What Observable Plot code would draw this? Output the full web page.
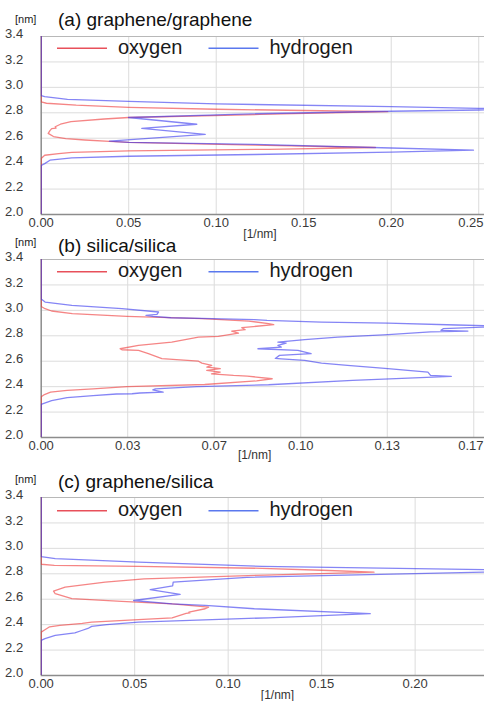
<!DOCTYPE html>
<html>
<head>
<meta charset="utf-8">
<script src="https://cdn.jsdelivr.net/npm/d3@7"></script>
<script src="https://cdn.jsdelivr.net/npm/@observablehq/plot@0.6"></script>
<style>
  html, body { margin: 0; padding: 0; background: white; }
  #root { position: relative; width: 484px; height: 701px; overflow: hidden; font-family: "Liberation Sans", Arial, sans-serif; }
  #root > svg.panel { position: absolute; left: 0; }
  #overlay { position: absolute; left: 0; top: 0; pointer-events: none; }
</style>
</head>
<body>
<div id="root"></div>
<script>
// ---------- data (position [nm], density [1/nm]) ----------
const yTicks = [2.0, 2.2, 2.4, 2.6, 2.8, 3.0, 3.2, 3.4];
const xTicksA = [0, 0.05, 0.10, 0.15, 0.20, 0.25];
const xTicksB = [0, 1/30, 2/30, 3/30, 4/30, 5/30];
const xTicksC = [0, 0.05, 0.10, 0.15, 0.20];
const seriesNames = ["oxygen", "hydrogen"];
const panelTitles = ["(a) graphene/graphene", "(b) silica/silica", "(c) graphene/silica"];

// panel (a) graphene/graphene : [position, density]
const oxygenA = [[2.00,0],[2.44,0],[2.466,0.002],[2.478,0.01],[2.488,0.0175],[2.50,0.05],[2.513,0.13],[2.527,0.191],
  [2.545,0.122],[2.567,0.05],[2.575,0.039],[2.586,0.025],[2.597,0.014],[2.613,0.007],[2.638,0.004],[2.660,0.005],
  [2.675,0.006],[2.680,0.0085],[2.690,0.008],[2.710,0.011],[2.730,0.017],[2.751,0.036],[2.763,0.050],[2.787,0.125],
  [2.809,0.198],[2.818,0.15],[2.828,0.10],[2.843,0.05],[2.860,0.02],[2.875,0.003],[2.885,0],[3.40,0]];
const hydrogenA = [[2.00,0],[2.385,0],[2.40,0.002],[2.427,0.005],[2.445,0.0175],[2.458,0.05],[2.472,0.122],[2.49,0.20],
  [2.506,0.247],[2.523,0.20],[2.551,0.122],[2.568,0.05],[2.577,0.039],[2.63,0.0937],[2.677,0.0575],[2.710,0.0889],
  [2.763,0.0499],[2.792,0.12],[2.812,0.20],[2.822,0.25],[2.828,0.273],[2.835,0.25],[2.848,0.20],[2.870,0.10],
  [2.889,0.05],[2.906,0.015],[2.927,0.002],[2.935,0],[3.40,0]];

// panel (b) silica/silica
const oxygenB = [[2.00,0],[2.32,0],[2.335,0.001],[2.357,0.0036],[2.37,0.01],[2.383,0.02],[2.40,0.033],[2.417,0.063],
  [2.445,0.083],[2.462,0.089],[2.483,0.0794],[2.488,0.0741],[2.501,0.0656],[2.515,0.069],[2.528,0.0638],[2.541,0.069],
  [2.554,0.0638],[2.567,0.0657],[2.585,0.0619],[2.60,0.0606],[2.62,0.0465],[2.659,0.0413],[2.685,0.0375],[2.69,0.0311],
  [2.698,0.0304],[2.724,0.0375],[2.75,0.0503],[2.79,0.0606],[2.795,0.0683],[2.821,0.076],[2.837,0.0734],[2.848,0.0786],
  [2.864,0.0773],[2.875,0.083],[2.887,0.0896],[2.895,0.0876],[2.916,0.080],[2.935,0.062],[2.953,0.033],[2.975,0.012],
  [2.995,0.004],[3.013,0.0015],[3.03,0],[3.40,0]];
const hydrogenB = [[2.00,0],[2.26,0],[2.265,0.0005],[2.29,0.004],[2.313,0.01],[2.33,0.02],[2.342,0.029],[2.344,0.035],
  [2.35,0.038],[2.357,0.047],[2.375,0.043],[2.383,0.044],[2.40,0.06],[2.415,0.0876],[2.45,0.12],[2.48,0.158],
  [2.488,0.150],[2.514,0.149],[2.541,0.1336],[2.567,0.118],[2.585,0.108],[2.606,0.1015],[2.619,0.0925],[2.622,0.0902],
  [2.646,0.0918],[2.659,0.104],[2.685,0.0989],[2.698,0.0835],[2.711,0.0925],[2.724,0.0912],[2.743,0.0944],[2.75,0.0912],
  [2.769,0.1015],[2.79,0.1143],[2.809,0.1336],[2.83,0.15],[2.837,0.1644],[2.843,0.154],[2.856,0.155],[2.868,0.17],
  [2.875,0.18],[2.885,0.16],[2.90,0.1336],[2.908,0.108],[2.921,0.087],[2.927,0.0822],[2.935,0.0657],[2.942,0.05],
  [2.953,0.043],[2.961,0.0404],[2.969,0.0446],[2.987,0.0452],[3.013,0.0311],[3.039,0.0118],[3.065,0.0015],[3.09,0],[3.40,0]];

// panel (c) graphene/silica
const oxygenC = [[2.00,0],[2.341,0],[2.36,0.002],[2.383,0.0045],[2.395,0.01],[2.41,0.022],[2.42,0.027],[2.439,0.052],
  [2.454,0.07],[2.488,0.0775],[2.492,0.0795],[2.498,0.079],[2.525,0.0877],[2.538,0.0895],[2.564,0.07],[2.583,0.043],
  [2.604,0.0164],[2.643,0.0075],[2.664,0.0066],[2.695,0.0128],[2.734,0.0342],[2.76,0.055],[2.79,0.12],[2.813,0.178],
  [2.828,0.15],[2.843,0.118],[2.858,0.052],[2.866,0.007],[2.875,0],[3.40,0]];
const hydrogenC = [[2.00,0],[2.276,0],[2.29,0.002],[2.315,0.0075],[2.335,0.018],[2.354,0.0217],[2.37,0.025],[2.386,0.027],
  [2.40,0.035],[2.42,0.052],[2.454,0.1216],[2.486,0.176],[2.525,0.114],[2.551,0.0877],[2.564,0.07],[2.59,0.0494],
  [2.638,0.0743],[2.675,0.0583],[2.705,0.0703],[2.734,0.0706],[2.772,0.11],[2.813,0.237],[2.823,0.256],[2.832,0.237],
  [2.858,0.118],[2.892,0.052],[2.919,0.0075],[2.935,0],[3.40,0]];

// ---------- layout ----------
const W = 484, ML = 40.7, MT = 12, MB = 30, FH = 178;
const RED = "#ee3333", BLUE = "#3333ee";
const panels = [
  {frameTop: 36,    xmax: 0.2533, xTicks: xTicksA, oxygen: oxygenA, hydrogen: hydrogenA, lastEdge: true,
   nmBase: 22.5, titleBase: 25.5, legendY: 48.3, unitX: 260, unitBase: 238},
  {frameTop: 258.5, xmax: 0.1708, xTicks: xTicksB, oxygen: oxygenB, hydrogen: hydrogenB, lastEdge: true,
   nmBase: 246, titleBase: 252, legendY: 271.7, unitX: 254.7, unitBase: 459},
  {frameTop: 497,   xmax: 0.2371, xTicks: xTicksC, oxygen: oxygenC, hydrogen: hydrogenC, lastEdge: false,
   nmBase: 482.5, titleBase: 488.3, legendY: 510.7, unitX: 277.5, unitBase: 698.5}
];

const root = document.getElementById("root");
const font = "Liberation Sans, Arial, sans-serif";

panels.forEach((p, i) => {
  const inner = p.lastEdge ? p.xTicks.slice(0, -1) : p.xTicks;
  const edge = p.lastEdge ? p.xTicks.slice(-1) : [];
  const chart = Plot.plot({
    width: W, height: MT + FH + MB,
    marginTop: MT, marginBottom: MB, marginLeft: ML, marginRight: 0,
    x: {domain: [0, p.xmax], axis: null},
    y: {domain: [2.0, 3.4], axis: null},
    style: {background: "transparent", fontFamily: font},
    marks: [
      Plot.ruleX(p.xTicks.slice(1), {stroke: "#dcdcdc", strokeWidth: 1}),
      Plot.ruleY(yTicks.slice(1, -1), {stroke: "#dcdcdc", strokeWidth: 1}),
      Plot.ruleY([3.4], {stroke: "#b8b8b8", strokeWidth: 1.2}),
      Plot.ruleX([0], {stroke: "#8c8c8c", strokeWidth: 1.5}),
      Plot.ruleY([2.0], {stroke: "#8c8c8c", strokeWidth: 1.5}),
      Plot.line(p.oxygen, {x: d => d[1], y: d => d[0], stroke: RED, strokeOpacity: 0.6, strokeWidth: 1.3, clip: true}),
      Plot.line(p.hydrogen, {x: d => d[1], y: d => d[0], stroke: BLUE, strokeOpacity: 0.6, strokeWidth: 1.3, clip: true}),
      Plot.text(yTicks, {y: d => d, frameAnchor: "left", dx: -18, dy: -2.5, textAnchor: "end",
        text: d => d.toFixed(1), fontSize: 13, fill: "#3a3a3a"}),
      Plot.text(inner, {x: d => d, frameAnchor: "bottom", dy: 12.7,
        text: d => d.toFixed(2), fontSize: 13, fill: "#3a3a3a"}),
      Plot.text(edge, {frameAnchor: "bottom-right", dx: -1, dy: 12.7, textAnchor: "end",
        text: d => d.toFixed(2), fontSize: 13, fill: "#3a3a3a"})
    ]
  });
  chart.classList.add("panel");
  chart.style.top = (p.frameTop - MT) + "px";
  root.appendChild(chart);
});

// ---------- titles, units, legends ----------
const ov = d3.create("svg").attr("id", "overlay").attr("width", W).attr("height", 701)
  .attr("font-family", font);
panels.forEach((p, i) => {
  ov.append("text").attr("x", 15).attr("y", p.nmBase).attr("font-size", 11).attr("fill", "#222").text("[nm]");
  ov.append("text").attr("x", 58).attr("y", p.titleBase).attr("font-size", 19).attr("fill", "#111").text(panelTitles[i]);
  ov.append("text").attr("x", p.unitX).attr("y", p.unitBase).attr("font-size", 12).attr("text-anchor", "middle")
    .attr("fill", "#333").text("[1/nm]");
  const leg = [{name: seriesNames[0], color: "#e8505a", x0: 57, tx: 118},
               {name: seriesNames[1], color: "#5a78ee", x0: 208.5, tx: 269.5}];
  leg.forEach(l => {
    ov.append("line").attr("x1", l.x0).attr("x2", l.x0 + 50).attr("y1", p.legendY).attr("y2", p.legendY)
      .attr("stroke", l.color).attr("stroke-width", 1.6);
    ov.append("text").attr("x", l.tx).attr("y", p.legendY + 5.3).attr("font-size", 20).attr("fill", "#1a1a1a").text(l.name);
  });
});
root.appendChild(ov.node());
</script>
</body>
</html>
